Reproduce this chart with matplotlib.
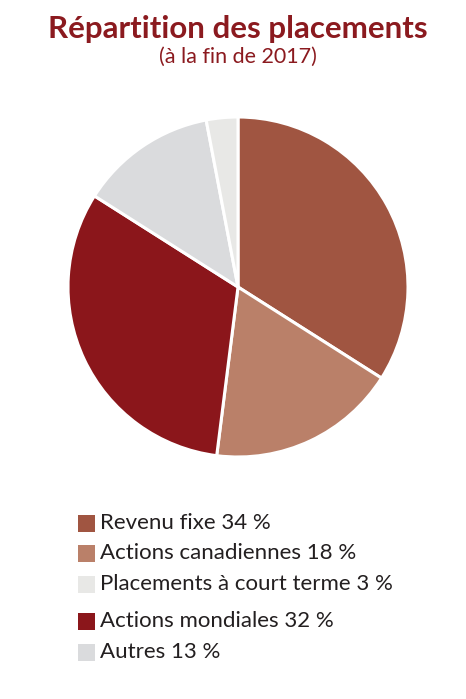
import matplotlib
matplotlib.use("Agg")
import matplotlib.pyplot as plt
from matplotlib.patches import Rectangle

# Data (pie order, clockwise from top)
categories = ["Revenu fixe", "Actions canadiennes", "Actions mondiales", "Autres", "Placements à court terme"]
values = [34, 18, 32, 13, 3]
colors = ["#A05541", "#BA8069", "#8B161B", "#DADBDD", "#E8E8E6"]

# Legend order
legend_order = ["Revenu fixe", "Actions canadiennes", "Placements à court terme", "Actions mondiales", "Autres"]

title = "Répartition des placements"
subtitle = "(à la fin de 2017)"
title_color = "#8B1A1F"

W, H = 466, 699
fig = plt.figure(figsize=(W / 100, H / 100), dpi=100)
fig.patch.set_facecolor("white")

cx, cy, r = 238, 287, 170
ax = fig.add_axes([(cx - r) / W, (H - cy - r) / H, 2 * r / W, 2 * r / H])
ax.pie(values, colors=colors, startangle=90, counterclock=False,
       wedgeprops=dict(edgecolor="white", linewidth=2.2), radius=1.0)
ax.set_xlim(-1, 1)
ax.set_ylim(-1, 1)
ax.set_aspect("equal")
ax.axis("off")

fig.text(238 / W, 1 - 29 / H, title, ha="center", va="center", color=title_color,
         fontsize=22.5, fontweight="bold", family="Lato")
fig.text(238 / W, 1 - 57 / H, subtitle, ha="center", va="center", color=title_color,
         fontsize=15.5, family="Lato")

val_map = dict(zip(categories, values))
col_map = dict(zip(categories, colors))
rows_y = [523, 553, 584, 621, 652]
for name, y in zip(legend_order, rows_y):
    fig.patches.append(Rectangle((78 / W, 1 - (y + 8.5) / H), 17 / W, 17 / H,
                                 transform=fig.transFigure, facecolor=col_map[name],
                                 edgecolor="none"))
    fig.text(100 / W, 1 - y / H, f"{name} {val_map[name]} %", ha="left", va="center",
             fontsize=16, color="#231F20", family="Lato")

fig.savefig("out.png", dpi=100, facecolor="white")
